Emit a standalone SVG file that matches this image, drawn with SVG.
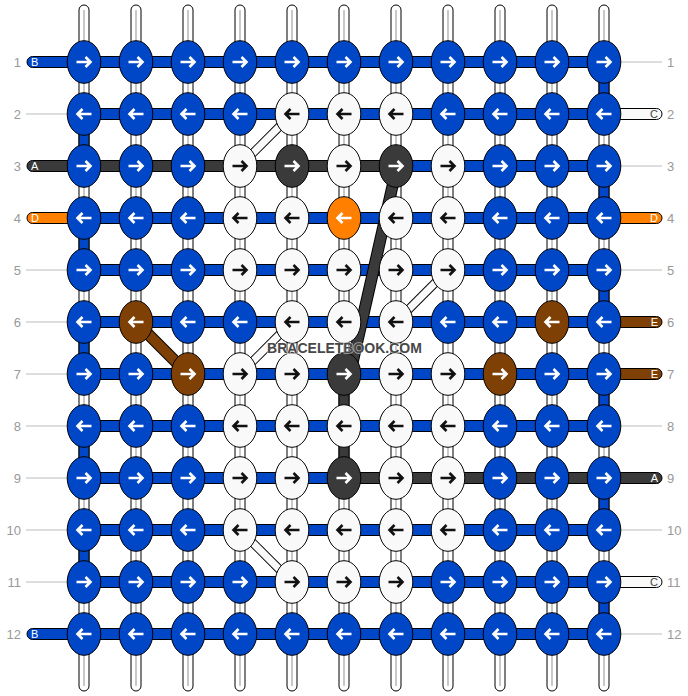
<svg xmlns="http://www.w3.org/2000/svg" xmlns:xlink="http://www.w3.org/1999/xlink" width="688" height="696" viewBox="0 0 688 696">
<style>
.bg{fill:#fff}
.vt{fill:#fff;stroke:#000;stroke-width:1}
.vc{stroke:#c8c8c8;stroke-width:2}
.hb{stroke:#000;stroke-width:1}
.b{fill:#0047c8;stroke:#000;stroke-width:1}
.w{fill:#f9f9f9;stroke:#000;stroke-width:1}
.d{fill:#3a3a3a;stroke:#000;stroke-width:1}
.o{fill:#ff8000;stroke:#000;stroke-width:1}
.n{fill:#7f4006;stroke:#000;stroke-width:1}
.aw{stroke:#fff;fill:none}
.ak{stroke:#111;fill:none}
.gl{stroke:#bbb;stroke-width:1}
.num{font-family:"Liberation Sans",Arial,sans-serif;font-size:13px;fill:#999}
.lt{font-family:"Liberation Sans",Arial,sans-serif;font-size:11px;fill:#fff}
.ltk{font-family:"Liberation Sans",Arial,sans-serif;font-size:11px;fill:#444}
.wm{font-family:"Liberation Sans",Arial,sans-serif;font-size:14px;font-weight:bold;fill:#484848;stroke:#fff;stroke-width:1.5;stroke-opacity:0.6;paint-order:stroke}
</style>
<defs>
<ellipse id="nd" cx="0" cy="0" rx="16.8" ry="21.3"/>
<path id="ar" d="M-7.5,0 H6.5 M1.5,-5 L6.5,0 L1.5,5" stroke-width="2.6" fill="none"/>
<path id="al" d="M7.5,0 H-6.5 M-1.5,-5 L-6.5,0 L-1.5,5" stroke-width="2.6" fill="none"/>
</defs>
<rect class="bg" x="0" y="0" width="688" height="696"/>
<g id="labels">
<g class="gl">
<line x1="26" y1="114" x2="67" y2="114"/>
<line x1="26" y1="270" x2="67" y2="270"/>
<line x1="26" y1="322" x2="67" y2="322"/>
<line x1="26" y1="374" x2="67" y2="374"/>
<line x1="26" y1="426" x2="67" y2="426"/>
<line x1="26" y1="478" x2="67" y2="478"/>
<line x1="26" y1="530" x2="67" y2="530"/>
<line x1="26" y1="582" x2="67" y2="582"/>
<line x1="621" y1="62" x2="662" y2="62"/>
<line x1="621" y1="166" x2="662" y2="166"/>
<line x1="621" y1="270" x2="662" y2="270"/>
<line x1="621" y1="426" x2="662" y2="426"/>
<line x1="621" y1="530" x2="662" y2="530"/>
<line x1="621" y1="634" x2="662" y2="634"/>
</g>
<g class="num" text-anchor="end">
<text x="21" y="66.5">1</text><text x="21" y="118.5">2</text><text x="21" y="170.5">3</text><text x="21" y="222.5">4</text><text x="21" y="274.5">5</text><text x="21" y="326.5">6</text><text x="21" y="378.5">7</text><text x="21" y="430.5">8</text><text x="21" y="482.5">9</text><text x="21" y="534.5">10</text><text x="21" y="586.5">11</text><text x="21" y="638.5">12</text>
</g>
<g class="num">
<text x="667" y="66.5">1</text><text x="667" y="118.5">2</text><text x="667" y="170.5">3</text><text x="667" y="222.5">4</text><text x="667" y="274.5">5</text><text x="667" y="326.5">6</text><text x="667" y="378.5">7</text><text x="667" y="430.5">8</text><text x="667" y="482.5">9</text><text x="667" y="534.5">10</text><text x="667" y="586.5">11</text><text x="667" y="638.5">12</text>
</g>
</g>
<g id="connectors">
<g id="warps">
<rect class="vt" x="79" y="5" width="10" height="686" rx="5"/>
<rect class="vt" x="131" y="5" width="10" height="686" rx="5"/>
<rect class="vt" x="183" y="5" width="10" height="686" rx="5"/>
<rect class="vt" x="235" y="5" width="10" height="686" rx="5"/>
<rect class="vt" x="287" y="5" width="10" height="686" rx="5"/>
<rect class="vt" x="339" y="5" width="10" height="686" rx="5"/>
<rect class="vt" x="391" y="5" width="10" height="686" rx="5"/>
<rect class="vt" x="443" y="5" width="10" height="686" rx="5"/>
<rect class="vt" x="495" y="5" width="10" height="686" rx="5"/>
<rect class="vt" x="547" y="5" width="10" height="686" rx="5"/>
<rect class="vt" x="599" y="5" width="10" height="686" rx="5"/>
<g class="vc">
<line x1="84" y1="10" x2="84" y2="686"/><line x1="136" y1="10" x2="136" y2="686"/><line x1="188" y1="10" x2="188" y2="686"/><line x1="240" y1="10" x2="240" y2="686"/><line x1="292" y1="10" x2="292" y2="686"/><line x1="344" y1="10" x2="344" y2="686"/><line x1="396" y1="10" x2="396" y2="686"/><line x1="448" y1="10" x2="448" y2="686"/><line x1="500" y1="10" x2="500" y2="686"/><line x1="552" y1="10" x2="552" y2="686"/><line x1="604" y1="10" x2="604" y2="686"/>
</g>
</g>
<g id="turns">
<rect class="b" x="599" y="62" width="10" height="52"/>
<rect class="b" x="599" y="166" width="10" height="52"/>
<rect class="b" x="599" y="270" width="10" height="52"/>
<rect class="b" x="599" y="374" width="10" height="52"/>
<rect class="b" x="599" y="478" width="10" height="52"/>
<rect class="b" x="599" y="582" width="10" height="52"/>
<rect class="b" x="79" y="114" width="10" height="52"/>
<rect class="b" x="79" y="218" width="10" height="52"/>
<rect class="b" x="79" y="322" width="10" height="52"/>
<rect class="b" x="79" y="426" width="10" height="52"/>
<rect class="b" x="79" y="530" width="10" height="52"/>
<rect class="d" x="339" y="374" width="10" height="104"/>
</g>
<g id="rows">
<rect class="b" x="84" y="56.5" width="520" height="11"/>
<rect class="b" x="84" y="108.5" width="520" height="11"/>
<rect class="b" x="84" y="160.5" width="520" height="11"/>
<rect class="b" x="84" y="212.5" width="520" height="11"/>
<rect class="b" x="84" y="264.5" width="520" height="11"/>
<rect class="b" x="84" y="316.5" width="520" height="11"/>
<rect class="b" x="84" y="368.5" width="520" height="11"/>
<rect class="b" x="84" y="420.5" width="520" height="11"/>
<rect class="b" x="84" y="472.5" width="520" height="11"/>
<rect class="b" x="84" y="524.5" width="520" height="11"/>
<rect class="b" x="84" y="576.5" width="520" height="11"/>
<rect class="b" x="84" y="628.5" width="520" height="11"/>
<rect class="d" x="84" y="160.5" width="312" height="11"/>
<rect class="d" x="344" y="472.5" width="260" height="11"/>
</g>
<g id="ends">
<rect class="b" x="27" y="56.5" width="62" height="11" rx="5.5"/>
<rect class="d" x="27" y="160.5" width="62" height="11" rx="5.5"/>
<rect class="o" x="27" y="212.5" width="62" height="11" rx="5.5"/>
<rect class="b" x="27" y="628.5" width="62" height="11" rx="5.5"/>
<rect class="w" x="599" y="108.5" width="63" height="11" rx="5.5"/>
<rect class="o" x="599" y="212.5" width="63" height="11" rx="5.5"/>
<rect class="n" x="599" y="316.5" width="63" height="11" rx="5.5"/>
<rect class="n" x="599" y="368.5" width="63" height="11" rx="5.5"/>
<rect class="d" x="599" y="472.5" width="63" height="11" rx="5.5"/>
<rect class="w" x="599" y="576.5" width="63" height="11" rx="5.5"/>
<text class="lt" x="31" y="66">B</text>
<text class="lt" x="31" y="170">A</text>
<text class="lt" x="31" y="222">D</text>
<text class="lt" x="31" y="638">B</text>
<text class="ltk" x="658" y="118" text-anchor="end">C</text>
<text class="lt" x="658" y="222" text-anchor="end">D</text>
<text class="lt" x="658" y="326" text-anchor="end">E</text>
<text class="lt" x="658" y="378" text-anchor="end">E</text>
<text class="lt" x="658" y="482" text-anchor="end">A</text>
<text class="ltk" x="658" y="586" text-anchor="end">C</text>
</g>
<g id="diagonals">
<line x1="292" y1="114" x2="240" y2="166" stroke="#000" stroke-width="9"/>
<line x1="292" y1="114" x2="240" y2="166" stroke="#fafafa" stroke-width="7"/>
<line x1="448" y1="270" x2="396" y2="322" stroke="#000" stroke-width="9"/>
<line x1="448" y1="270" x2="396" y2="322" stroke="#fafafa" stroke-width="7"/>
<line x1="292" y1="322" x2="240" y2="374" stroke="#000" stroke-width="9"/>
<line x1="292" y1="322" x2="240" y2="374" stroke="#fafafa" stroke-width="7"/>
<line x1="240" y1="530" x2="292" y2="582" stroke="#000" stroke-width="9"/>
<line x1="240" y1="530" x2="292" y2="582" stroke="#fafafa" stroke-width="7"/>
<line x1="136" y1="322" x2="188" y2="374" stroke="#000" stroke-width="12"/>
<line x1="136" y1="322" x2="188" y2="374" stroke="#7f4006" stroke-width="10"/>
<line x1="397" y1="166" x2="350" y2="374" stroke="#000" stroke-width="12"/>
<line x1="397" y1="166" x2="350" y2="374" stroke="#3a3a3a" stroke-width="10"/>
</g>
</g>
<g id="nodes">
<g id="k1-1"><use href="#nd" class="b" x="84" y="62"/><use href="#ar" class="aw" x="84" y="62"/></g>
<g id="k1-2"><use href="#nd" class="b" x="136" y="62"/><use href="#ar" class="aw" x="136" y="62"/></g>
<g id="k1-3"><use href="#nd" class="b" x="188" y="62"/><use href="#ar" class="aw" x="188" y="62"/></g>
<g id="k1-4"><use href="#nd" class="b" x="240" y="62"/><use href="#ar" class="aw" x="240" y="62"/></g>
<g id="k1-5"><use href="#nd" class="b" x="292" y="62"/><use href="#ar" class="aw" x="292" y="62"/></g>
<g id="k1-6"><use href="#nd" class="b" x="344" y="62"/><use href="#ar" class="aw" x="344" y="62"/></g>
<g id="k1-7"><use href="#nd" class="b" x="396" y="62"/><use href="#ar" class="aw" x="396" y="62"/></g>
<g id="k1-8"><use href="#nd" class="b" x="448" y="62"/><use href="#ar" class="aw" x="448" y="62"/></g>
<g id="k1-9"><use href="#nd" class="b" x="500" y="62"/><use href="#ar" class="aw" x="500" y="62"/></g>
<g id="k1-10"><use href="#nd" class="b" x="552" y="62"/><use href="#ar" class="aw" x="552" y="62"/></g>
<g id="k1-11"><use href="#nd" class="b" x="604" y="62"/><use href="#ar" class="aw" x="604" y="62"/></g>

<g id="k2-1"><use href="#nd" class="b" x="84" y="114"/><use href="#al" class="aw" x="84" y="114"/></g>
<g id="k2-2"><use href="#nd" class="b" x="136" y="114"/><use href="#al" class="aw" x="136" y="114"/></g>
<g id="k2-3"><use href="#nd" class="b" x="188" y="114"/><use href="#al" class="aw" x="188" y="114"/></g>
<g id="k2-4"><use href="#nd" class="b" x="240" y="114"/><use href="#al" class="aw" x="240" y="114"/></g>
<g id="k2-5"><use href="#nd" class="w" x="292" y="114"/><use href="#al" class="ak" x="292" y="114"/></g>
<g id="k2-6"><use href="#nd" class="w" x="344" y="114"/><use href="#al" class="ak" x="344" y="114"/></g>
<g id="k2-7"><use href="#nd" class="w" x="396" y="114"/><use href="#al" class="ak" x="396" y="114"/></g>
<g id="k2-8"><use href="#nd" class="b" x="448" y="114"/><use href="#al" class="aw" x="448" y="114"/></g>
<g id="k2-9"><use href="#nd" class="b" x="500" y="114"/><use href="#al" class="aw" x="500" y="114"/></g>
<g id="k2-10"><use href="#nd" class="b" x="552" y="114"/><use href="#al" class="aw" x="552" y="114"/></g>
<g id="k2-11"><use href="#nd" class="b" x="604" y="114"/><use href="#al" class="aw" x="604" y="114"/></g>

<g id="k3-1"><use href="#nd" class="b" x="84" y="166"/><use href="#ar" class="aw" x="84" y="166"/></g>
<g id="k3-2"><use href="#nd" class="b" x="136" y="166"/><use href="#ar" class="aw" x="136" y="166"/></g>
<g id="k3-3"><use href="#nd" class="b" x="188" y="166"/><use href="#ar" class="aw" x="188" y="166"/></g>
<g id="k3-4"><use href="#nd" class="w" x="240" y="166"/><use href="#ar" class="ak" x="240" y="166"/></g>
<g id="k3-5"><use href="#nd" class="d" x="292" y="166"/><use href="#ar" class="aw" x="292" y="166"/></g>
<g id="k3-6"><use href="#nd" class="w" x="344" y="166"/><use href="#ar" class="ak" x="344" y="166"/></g>
<g id="k3-7"><use href="#nd" class="d" x="396" y="166"/><use href="#ar" class="aw" x="396" y="166"/></g>
<g id="k3-8"><use href="#nd" class="w" x="448" y="166"/><use href="#ar" class="ak" x="448" y="166"/></g>
<g id="k3-9"><use href="#nd" class="b" x="500" y="166"/><use href="#ar" class="aw" x="500" y="166"/></g>
<g id="k3-10"><use href="#nd" class="b" x="552" y="166"/><use href="#ar" class="aw" x="552" y="166"/></g>
<g id="k3-11"><use href="#nd" class="b" x="604" y="166"/><use href="#ar" class="aw" x="604" y="166"/></g>

<g id="k4-1"><use href="#nd" class="b" x="84" y="218"/><use href="#al" class="aw" x="84" y="218"/></g>
<g id="k4-2"><use href="#nd" class="b" x="136" y="218"/><use href="#al" class="aw" x="136" y="218"/></g>
<g id="k4-3"><use href="#nd" class="b" x="188" y="218"/><use href="#al" class="aw" x="188" y="218"/></g>
<g id="k4-4"><use href="#nd" class="w" x="240" y="218"/><use href="#al" class="ak" x="240" y="218"/></g>
<g id="k4-5"><use href="#nd" class="w" x="292" y="218"/><use href="#al" class="ak" x="292" y="218"/></g>
<g id="k4-6"><use href="#nd" class="o" x="344" y="218"/><use href="#al" class="aw" x="344" y="218"/></g>
<g id="k4-7"><use href="#nd" class="w" x="396" y="218"/><use href="#al" class="ak" x="396" y="218"/></g>
<g id="k4-8"><use href="#nd" class="w" x="448" y="218"/><use href="#al" class="ak" x="448" y="218"/></g>
<g id="k4-9"><use href="#nd" class="b" x="500" y="218"/><use href="#al" class="aw" x="500" y="218"/></g>
<g id="k4-10"><use href="#nd" class="b" x="552" y="218"/><use href="#al" class="aw" x="552" y="218"/></g>
<g id="k4-11"><use href="#nd" class="b" x="604" y="218"/><use href="#al" class="aw" x="604" y="218"/></g>

<g id="k5-1"><use href="#nd" class="b" x="84" y="270"/><use href="#ar" class="aw" x="84" y="270"/></g>
<g id="k5-2"><use href="#nd" class="b" x="136" y="270"/><use href="#ar" class="aw" x="136" y="270"/></g>
<g id="k5-3"><use href="#nd" class="b" x="188" y="270"/><use href="#ar" class="aw" x="188" y="270"/></g>
<g id="k5-4"><use href="#nd" class="w" x="240" y="270"/><use href="#ar" class="ak" x="240" y="270"/></g>
<g id="k5-5"><use href="#nd" class="w" x="292" y="270"/><use href="#ar" class="ak" x="292" y="270"/></g>
<g id="k5-6"><use href="#nd" class="w" x="344" y="270"/><use href="#ar" class="ak" x="344" y="270"/></g>
<g id="k5-7"><use href="#nd" class="w" x="396" y="270"/><use href="#ar" class="ak" x="396" y="270"/></g>
<g id="k5-8"><use href="#nd" class="w" x="448" y="270"/><use href="#ar" class="ak" x="448" y="270"/></g>
<g id="k5-9"><use href="#nd" class="b" x="500" y="270"/><use href="#ar" class="aw" x="500" y="270"/></g>
<g id="k5-10"><use href="#nd" class="b" x="552" y="270"/><use href="#ar" class="aw" x="552" y="270"/></g>
<g id="k5-11"><use href="#nd" class="b" x="604" y="270"/><use href="#ar" class="aw" x="604" y="270"/></g>

<g id="k6-1"><use href="#nd" class="b" x="84" y="322"/><use href="#al" class="aw" x="84" y="322"/></g>
<g id="k6-2"><use href="#nd" class="n" x="136" y="322"/><use href="#al" class="aw" x="136" y="322"/></g>
<g id="k6-3"><use href="#nd" class="b" x="188" y="322"/><use href="#al" class="aw" x="188" y="322"/></g>
<g id="k6-4"><use href="#nd" class="b" x="240" y="322"/><use href="#al" class="aw" x="240" y="322"/></g>
<g id="k6-5"><use href="#nd" class="w" x="292" y="322"/><use href="#al" class="ak" x="292" y="322"/></g>
<g id="k6-6"><use href="#nd" class="w" x="344" y="322"/><use href="#al" class="ak" x="344" y="322"/></g>
<g id="k6-7"><use href="#nd" class="w" x="396" y="322"/><use href="#al" class="ak" x="396" y="322"/></g>
<g id="k6-8"><use href="#nd" class="b" x="448" y="322"/><use href="#al" class="aw" x="448" y="322"/></g>
<g id="k6-9"><use href="#nd" class="b" x="500" y="322"/><use href="#al" class="aw" x="500" y="322"/></g>
<g id="k6-10"><use href="#nd" class="n" x="552" y="322"/><use href="#al" class="aw" x="552" y="322"/></g>
<g id="k6-11"><use href="#nd" class="b" x="604" y="322"/><use href="#al" class="aw" x="604" y="322"/></g>

<g id="k7-1"><use href="#nd" class="b" x="84" y="374"/><use href="#ar" class="aw" x="84" y="374"/></g>
<g id="k7-2"><use href="#nd" class="b" x="136" y="374"/><use href="#ar" class="aw" x="136" y="374"/></g>
<g id="k7-3"><use href="#nd" class="n" x="188" y="374"/><use href="#ar" class="aw" x="188" y="374"/></g>
<g id="k7-4"><use href="#nd" class="w" x="240" y="374"/><use href="#ar" class="ak" x="240" y="374"/></g>
<g id="k7-5"><use href="#nd" class="w" x="292" y="374"/><use href="#ar" class="ak" x="292" y="374"/></g>
<g id="k7-6"><use href="#nd" class="d" x="344" y="374"/><use href="#ar" class="aw" x="344" y="374"/></g>
<g id="k7-7"><use href="#nd" class="w" x="396" y="374"/><use href="#ar" class="ak" x="396" y="374"/></g>
<g id="k7-8"><use href="#nd" class="w" x="448" y="374"/><use href="#ar" class="ak" x="448" y="374"/></g>
<g id="k7-9"><use href="#nd" class="n" x="500" y="374"/><use href="#ar" class="aw" x="500" y="374"/></g>
<g id="k7-10"><use href="#nd" class="b" x="552" y="374"/><use href="#ar" class="aw" x="552" y="374"/></g>
<g id="k7-11"><use href="#nd" class="b" x="604" y="374"/><use href="#ar" class="aw" x="604" y="374"/></g>

<g id="k8-1"><use href="#nd" class="b" x="84" y="426"/><use href="#al" class="aw" x="84" y="426"/></g>
<g id="k8-2"><use href="#nd" class="b" x="136" y="426"/><use href="#al" class="aw" x="136" y="426"/></g>
<g id="k8-3"><use href="#nd" class="b" x="188" y="426"/><use href="#al" class="aw" x="188" y="426"/></g>
<g id="k8-4"><use href="#nd" class="w" x="240" y="426"/><use href="#al" class="ak" x="240" y="426"/></g>
<g id="k8-5"><use href="#nd" class="w" x="292" y="426"/><use href="#al" class="ak" x="292" y="426"/></g>
<g id="k8-6"><use href="#nd" class="w" x="344" y="426"/><use href="#al" class="ak" x="344" y="426"/></g>
<g id="k8-7"><use href="#nd" class="w" x="396" y="426"/><use href="#al" class="ak" x="396" y="426"/></g>
<g id="k8-8"><use href="#nd" class="w" x="448" y="426"/><use href="#al" class="ak" x="448" y="426"/></g>
<g id="k8-9"><use href="#nd" class="b" x="500" y="426"/><use href="#al" class="aw" x="500" y="426"/></g>
<g id="k8-10"><use href="#nd" class="b" x="552" y="426"/><use href="#al" class="aw" x="552" y="426"/></g>
<g id="k8-11"><use href="#nd" class="b" x="604" y="426"/><use href="#al" class="aw" x="604" y="426"/></g>

<g id="k9-1"><use href="#nd" class="b" x="84" y="478"/><use href="#ar" class="aw" x="84" y="478"/></g>
<g id="k9-2"><use href="#nd" class="b" x="136" y="478"/><use href="#ar" class="aw" x="136" y="478"/></g>
<g id="k9-3"><use href="#nd" class="b" x="188" y="478"/><use href="#ar" class="aw" x="188" y="478"/></g>
<g id="k9-4"><use href="#nd" class="w" x="240" y="478"/><use href="#ar" class="ak" x="240" y="478"/></g>
<g id="k9-5"><use href="#nd" class="w" x="292" y="478"/><use href="#ar" class="ak" x="292" y="478"/></g>
<g id="k9-6"><use href="#nd" class="d" x="344" y="478"/><use href="#ar" class="aw" x="344" y="478"/></g>
<g id="k9-7"><use href="#nd" class="w" x="396" y="478"/><use href="#ar" class="ak" x="396" y="478"/></g>
<g id="k9-8"><use href="#nd" class="w" x="448" y="478"/><use href="#ar" class="ak" x="448" y="478"/></g>
<g id="k9-9"><use href="#nd" class="b" x="500" y="478"/><use href="#ar" class="aw" x="500" y="478"/></g>
<g id="k9-10"><use href="#nd" class="b" x="552" y="478"/><use href="#ar" class="aw" x="552" y="478"/></g>
<g id="k9-11"><use href="#nd" class="b" x="604" y="478"/><use href="#ar" class="aw" x="604" y="478"/></g>

<g id="k10-1"><use href="#nd" class="b" x="84" y="530"/><use href="#al" class="aw" x="84" y="530"/></g>
<g id="k10-2"><use href="#nd" class="b" x="136" y="530"/><use href="#al" class="aw" x="136" y="530"/></g>
<g id="k10-3"><use href="#nd" class="b" x="188" y="530"/><use href="#al" class="aw" x="188" y="530"/></g>
<g id="k10-4"><use href="#nd" class="w" x="240" y="530"/><use href="#al" class="ak" x="240" y="530"/></g>
<g id="k10-5"><use href="#nd" class="w" x="292" y="530"/><use href="#al" class="ak" x="292" y="530"/></g>
<g id="k10-6"><use href="#nd" class="w" x="344" y="530"/><use href="#al" class="ak" x="344" y="530"/></g>
<g id="k10-7"><use href="#nd" class="w" x="396" y="530"/><use href="#al" class="ak" x="396" y="530"/></g>
<g id="k10-8"><use href="#nd" class="w" x="448" y="530"/><use href="#al" class="ak" x="448" y="530"/></g>
<g id="k10-9"><use href="#nd" class="b" x="500" y="530"/><use href="#al" class="aw" x="500" y="530"/></g>
<g id="k10-10"><use href="#nd" class="b" x="552" y="530"/><use href="#al" class="aw" x="552" y="530"/></g>
<g id="k10-11"><use href="#nd" class="b" x="604" y="530"/><use href="#al" class="aw" x="604" y="530"/></g>

<g id="k11-1"><use href="#nd" class="b" x="84" y="582"/><use href="#ar" class="aw" x="84" y="582"/></g>
<g id="k11-2"><use href="#nd" class="b" x="136" y="582"/><use href="#ar" class="aw" x="136" y="582"/></g>
<g id="k11-3"><use href="#nd" class="b" x="188" y="582"/><use href="#ar" class="aw" x="188" y="582"/></g>
<g id="k11-4"><use href="#nd" class="b" x="240" y="582"/><use href="#ar" class="aw" x="240" y="582"/></g>
<g id="k11-5"><use href="#nd" class="w" x="292" y="582"/><use href="#ar" class="ak" x="292" y="582"/></g>
<g id="k11-6"><use href="#nd" class="w" x="344" y="582"/><use href="#ar" class="ak" x="344" y="582"/></g>
<g id="k11-7"><use href="#nd" class="w" x="396" y="582"/><use href="#ar" class="ak" x="396" y="582"/></g>
<g id="k11-8"><use href="#nd" class="b" x="448" y="582"/><use href="#ar" class="aw" x="448" y="582"/></g>
<g id="k11-9"><use href="#nd" class="b" x="500" y="582"/><use href="#ar" class="aw" x="500" y="582"/></g>
<g id="k11-10"><use href="#nd" class="b" x="552" y="582"/><use href="#ar" class="aw" x="552" y="582"/></g>
<g id="k11-11"><use href="#nd" class="b" x="604" y="582"/><use href="#ar" class="aw" x="604" y="582"/></g>

<g id="k12-1"><use href="#nd" class="b" x="84" y="634"/><use href="#al" class="aw" x="84" y="634"/></g>
<g id="k12-2"><use href="#nd" class="b" x="136" y="634"/><use href="#al" class="aw" x="136" y="634"/></g>
<g id="k12-3"><use href="#nd" class="b" x="188" y="634"/><use href="#al" class="aw" x="188" y="634"/></g>
<g id="k12-4"><use href="#nd" class="b" x="240" y="634"/><use href="#al" class="aw" x="240" y="634"/></g>
<g id="k12-5"><use href="#nd" class="b" x="292" y="634"/><use href="#al" class="aw" x="292" y="634"/></g>
<g id="k12-6"><use href="#nd" class="b" x="344" y="634"/><use href="#al" class="aw" x="344" y="634"/></g>
<g id="k12-7"><use href="#nd" class="b" x="396" y="634"/><use href="#al" class="aw" x="396" y="634"/></g>
<g id="k12-8"><use href="#nd" class="b" x="448" y="634"/><use href="#al" class="aw" x="448" y="634"/></g>
<g id="k12-9"><use href="#nd" class="b" x="500" y="634"/><use href="#al" class="aw" x="500" y="634"/></g>
<g id="k12-10"><use href="#nd" class="b" x="552" y="634"/><use href="#al" class="aw" x="552" y="634"/></g>
<g id="k12-11"><use href="#nd" class="b" x="604" y="634"/><use href="#al" class="aw" x="604" y="634"/></g>
</g>
<text class="wm" x="344.5" y="352.5" text-anchor="middle">BRACELETBOOK.COM</text>
</svg>
